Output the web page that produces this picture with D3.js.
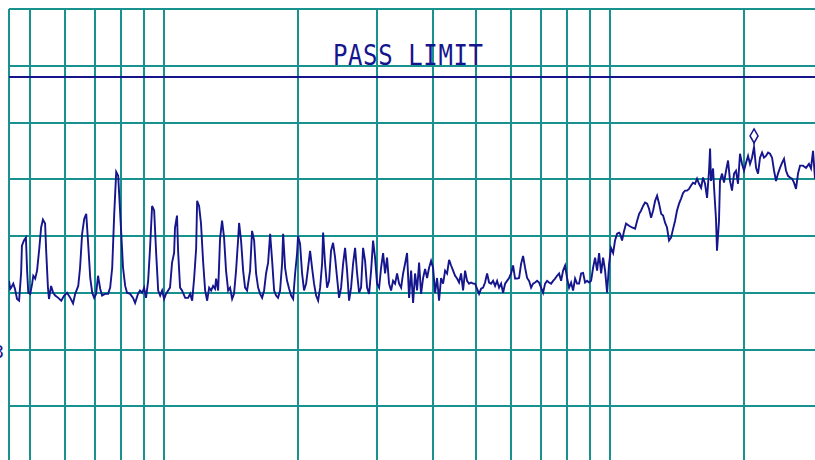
<!DOCTYPE html>
<html>
<head>
<meta charset="utf-8">
<script src="https://cdn.jsdelivr.net/npm/d3@7"></script>
<style>
  html, body { margin: 0; padding: 0; background: #fff; overflow: hidden; }
  svg { display: block; }
</style>
</head>
<body>
<div id="chart"></div>
<script>
// frequency grid (MHz, log) and level grid (dB)
const gridFreqs = [5, 6, 7, 8, 9, 10, 20, 30, 40, 50, 60, 70, 80, 90, 100, 200];
const gridLevels = [10, 20, 30, 40, 50, 60, 70, 80];
const passLimit = 68;
const limitLabel = "PASS LIMIT";
const peakMarker = [210.3, 55.7];

// measured trace, [MHz, dB]
const trace = [
  [4.49,32.1],[4.52,30.7],[4.54,30.9],[4.59,31.6],[4.63,30.7],[4.68,28.9],[4.73,28.6],[4.78,33.5],
  [4.80,38.3],[4.85,39.2],[4.90,39.7],[4.93,33.9],[4.96,30.0],[5.01,29.8],[5.06,31.6],[5.09,33.0],
  [5.14,32.5],[5.19,33.9],[5.25,37.8],[5.30,41.5],[5.35,42.9],[5.41,42.2],[5.44,37.4],[5.49,30.9],
  [5.52,28.9],[5.58,31.2],[5.64,30.0],[5.70,29.5],[5.79,29.1],[5.88,28.6],[5.97,29.5],[6.06,30.0],
  [6.16,29.1],[6.25,28.1],[6.32,29.8],[6.42,31.2],[6.48,34.4],[6.55,40.4],[6.62,43.0],[6.69,43.9],
  [6.75,39.2],[6.83,32.6],[6.90,30.0],[6.97,29.1],[7.04,29.8],[7.11,33.0],[7.19,30.7],[7.26,29.5],
  [7.37,29.8],[7.49,29.8],[7.57,30.9],[7.65,34.4],[7.73,43.9],[7.81,51.3],[7.89,50.6],[7.93,47.4],
  [8.01,40.9],[8.09,34.4],[8.18,31.2],[8.26,30.0],[8.39,29.8],[8.52,29.1],[8.61,28.2],[8.74,29.8],
  [8.83,30.4],[8.93,30.0],[9.02,30.9],[9.11,29.1],[9.21,32.1],[9.30,37.8],[9.40,45.3],[9.50,44.5],
  [9.60,36.9],[9.70,30.4],[9.80,29.5],[9.90,30.4],[10.00,28.9],[10.10,29.8],[10.21,30.4],[10.31,30.9],
  [10.42,35.3],[10.53,37.0],[10.58,41.5],[10.69,43.6],[10.75,37.4],[10.86,30.9],[10.97,30.4],[11.15,29.1],
  [11.32,29.1],[11.44,29.8],[11.56,28.6],[11.68,32.6],[11.80,37.8],[11.86,46.2],[11.98,45.3],[12.10,42.2],
  [12.23,35.6],[12.36,30.4],[12.49,28.6],[12.62,30.9],[12.75,30.4],[12.88,31.2],[13.01,30.7],[13.08,32.5],
  [13.22,30.4],[13.35,39.5],[13.49,42.7],[13.63,39.7],[13.77,33.9],[13.92,30.4],[14.06,30.9],[14.21,28.9],
  [14.35,29.8],[14.50,33.9],[14.65,39.2],[14.73,42.3],[14.88,39.2],[15.04,33.9],[15.19,30.9],[15.35,30.4],
  [15.59,33.9],[15.75,40.9],[15.92,39.2],[16.08,33.4],[16.25,30.9],[16.42,29.8],[16.59,29.1],[16.76,30.4],
  [16.93,33.4],[17.11,35.3],[17.29,40.4],[17.47,35.6],[17.65,30.4],[17.83,29.5],[18.01,29.1],[18.20,30.4],
  [18.39,35.1],[18.49,40.4],[18.68,34.4],[18.87,32.1],[19.07,30.7],[19.27,29.5],[19.47,28.9],[19.67,33.4],
  [19.87,36.9],[19.97,40.0],[20.18,38.6],[20.39,33.4],[20.60,30.4],[20.82,31.6],[21.03,34.4],[21.25,37.4],
  [21.47,34.4],[21.69,31.6],[21.92,29.5],[22.15,28.6],[22.38,30.9],[22.61,35.1],[22.73,40.6],[22.96,35.1],
  [23.20,30.9],[23.44,32.1],[23.68,37.4],[23.93,38.8],[24.18,36.2],[24.43,32.6],[24.68,29.1],[24.94,30.9],
  [25.20,35.1],[25.46,37.9],[25.72,33.9],[25.99,28.6],[26.26,30.9],[26.53,35.1],[26.81,37.9],[27.09,33.4],
  [27.37,30.0],[27.65,30.9],[27.94,37.9],[28.23,35.6],[28.52,30.9],[28.82,29.8],[29.12,33.9],[29.42,39.2],
  [29.72,36.2],[30.03,31.6],[30.35,30.9],[30.66,34.4],[30.98,37.0],[31.30,33.4],[31.62,36.2],[31.95,31.6],
  [32.28,30.4],[32.62,32.1],[32.96,31.6],[33.30,33.4],[33.65,31.6],[34.00,30.9],[34.35,33.4],[34.70,35.1],
  [35.06,37.0],[35.43,29.1],[35.80,33.9],[36.17,28.2],[36.54,33.4],[36.92,30.4],[37.31,35.3],[37.69,29.8],
  [38.09,32.6],[38.48,34.2],[38.88,32.6],[39.28,34.4],[39.69,35.6],[40.10,34.4],[40.52,30.0],[40.94,32.6],
  [41.36,28.6],[41.79,32.6],[42.23,31.6],[42.67,33.9],[43.11,33.4],[43.56,35.8],[44.01,34.8],[44.47,33.9],
  [44.93,33.0],[45.39,32.5],[45.86,31.8],[46.34,33.4],[46.82,30.4],[47.31,33.9],[47.80,32.1],[48.29,31.6],
  [48.80,31.8],[49.30,31.6],[49.81,31.6],[50.33,30.7],[50.85,29.8],[51.38,30.7],[51.92,30.9],[52.45,31.8],
  [53.00,33.4],[53.55,31.8],[54.10,31.6],[54.67,32.1],[55.23,31.2],[55.81,32.1],[56.39,30.9],[56.97,31.6],
  [57.56,30.0],[58.16,31.6],[58.76,32.1],[59.37,32.6],[59.99,33.4],[60.61,34.8],[61.24,32.5],[61.88,32.5],
  [62.52,32.6],[63.17,35.1],[63.82,36.5],[64.49,34.4],[65.16,32.6],[65.83,32.1],[66.52,30.9],[67.21,31.6],
  [67.90,31.8],[68.61,32.1],[69.32,31.8],[70.04,30.9],[70.77,30.0],[71.50,31.6],[72.24,32.1],[72.99,31.8],
  [73.75,31.6],[74.52,32.1],[75.29,32.5],[76.07,33.0],[76.86,33.4],[77.66,32.1],[78.47,33.9],[79.28,34.8],
  [80.10,32.6],[80.93,30.9],[81.78,31.8],[82.62,30.4],[83.48,32.5],[84.35,31.6],[85.22,31.6],[86.11,33.4],
  [87.00,33.5],[87.90,31.8],[88.82,32.1],[89.74,31.8],[90.67,32.1],[91.61,34.4],[92.56,36.2],[93.52,33.9],
  [94.50,37.0],[95.48,33.4],[96.47,36.2],[97.47,33.9],[98.48,30.0],[99.50,35.1],[100.5,37.9],[101.6,37.0],
  [102.6,39.2],[103.7,40.4],[104.8,40.6],[105.3,40.4],[106.4,39.2],[107.5,40.9],[108.6,42.2],[110.3,41.8],
  [112.0,41.5],[113.8,41.3],[115.0,42.7],[116.2,43.9],[117.4,44.5],[118.6,45.3],[119.8,45.9],[121.1,45.7],
  [122.3,44.8],[123.6,43.2],[124.9,44.5],[126.2,46.2],[127.5,47.1],[128.8,45.7],[130.2,43.9],[131.5,43.6],
  [132.9,42.3],[134.2,41.5],[135.6,39.2],[137.0,39.7],[138.5,41.3],[139.9,42.7],[141.3,44.5],[142.8,45.7],
  [144.3,46.6],[145.8,47.6],[147.3,48.0],[148.8,48.0],[150.3,48.3],[151.9,48.9],[153.5,49.4],[155.1,49.2],
  [156.7,50.1],[158.3,49.2],[160.0,48.5],[161.6,50.3],[163.3,49.2],[165.0,46.7],[166.7,51.5],[167.6,55.4],
  [168.4,49.7],[170.2,51.9],[171.1,48.5],[172.8,43.0],[173.7,37.4],[175.5,42.7],[176.4,49.7],[178.3,51.0],
  [180.1,49.4],[182.0,51.5],[183.9,53.3],[185.8,49.7],[187.7,48.0],[189.7,51.0],[191.6,51.5],[193.6,49.2],
  [195.6,54.5],[197.7,52.7],[199.7,51.5],[201.8,52.9],[203.9,54.1],[206.0,52.7],[208.1,53.8],[210.3,55.7],
  [212.5,52.0],[214.7,51.0],[216.9,53.8],[219.2,54.7],[221.4,53.8],[223.7,54.1],[226.1,54.7],[228.4,54.5],
  [230.8,53.8],[233.2,51.5],[235.6,49.7],[238.0,51.0],[240.5,52.0],[243.0,52.9],[245.5,53.6],[248.1,51.5],
  [250.6,50.6],[253.2,50.3],[255.9,50.1],[258.5,49.4],[261.2,48.3],[263.9,51.0],[266.7,52.4],[270.8,52.4],
  [275.1,52.0],[279.3,52.7],[282.2,51.9],[285.2,55.0],[288.1,50.1]
];

const w = 815, h = 460;
const padL = 9, padT = 9;
const gridColor = "#17928e";
const traceColor = "#15158e";

const x = d3.scaleLog().domain([4.49, 288.1]).range([padL, w]);
const y = d3.scaleLinear().domain([0, 80]).range([463, padT]);

const svg = d3.select("#chart")
  .append("svg")
  .attr("width", w)
  .attr("height", h);

svg.append("clipPath")
  .attr("id", "plot")
  .append("rect")
  .attr("x", padL).attr("y", padT)
  .attr("width", w - padL).attr("height", h - padT);

// horizontal grid
svg.append("g")
  .selectAll("line")
  .data(gridLevels)
  .join("line")
  .attr("x1", padL).attr("x2", w)
  .attr("y1", d => Math.round(y(d))).attr("y2", d => Math.round(y(d)))
  .attr("stroke", gridColor)
  .attr("stroke-width", 2);

// vertical grid + left frame
svg.append("g")
  .selectAll("line")
  .data(gridFreqs)
  .join("line")
  .attr("x1", d => Math.round(x(d))).attr("x2", d => Math.round(x(d)))
  .attr("y1", padT).attr("y2", h)
  .attr("stroke", gridColor)
  .attr("stroke-width", 2);

svg.append("line")
  .attr("x1", padL).attr("x2", padL)
  .attr("y1", padT).attr("y2", h)
  .attr("stroke", gridColor)
  .attr("stroke-width", 2);

// pass limit
svg.append("line")
  .attr("x1", padL).attr("x2", w)
  .attr("y1", Math.round(y(passLimit))).attr("y2", Math.round(y(passLimit)))
  .attr("stroke", traceColor)
  .attr("stroke-width", 2);

svg.append("g")
  .attr("transform", "translate(333,65) scale(1,1.2)")
  .append("text")
  .attr("x", 0).attr("y", 0)
  .attr("textLength", 150)
  .attr("lengthAdjust", "spacing")
  .style("font-family", "'DejaVu Sans Mono', monospace")
  .style("font-size", "24px")
  .attr("fill", traceColor)
  .text(limitLabel);

// trace
const line = d3.line()
  .x(d => x(d[0]))
  .y(d => y(d[1]));

svg.append("path")
  .datum(trace)
  .attr("clip-path", "url(#plot)")
  .attr("d", line)
  .attr("fill", "none")
  .attr("stroke", traceColor)
  .attr("stroke-width", 1.9)
  .attr("stroke-linejoin", "miter");

// peak marker
const mx = x(peakMarker[0]), my = y(peakMarker[1]);
svg.append("line")
  .attr("x1", mx).attr("x2", mx)
  .attr("y1", my).attr("y2", my - 5)
  .attr("stroke", traceColor)
  .attr("stroke-width", 1.5);
svg.append("path")
  .attr("d", `M${mx},${my - 18} L${mx + 4},${my - 11} L${mx},${my - 4} L${mx - 4},${my - 11} Z`)
  .attr("fill", "#fff")
  .attr("stroke", traceColor)
  .attr("stroke-width", 1.5);

// cut-off axis label at the far left
svg.append("text")
  .attr("x", 4).attr("y", 358)
  .attr("text-anchor", "end")
  .style("font-family", "'DejaVu Sans Mono', monospace")
  .style("font-size", "18px")
  .attr("fill", traceColor)
  .text("3");
</script>
</body>
</html>
